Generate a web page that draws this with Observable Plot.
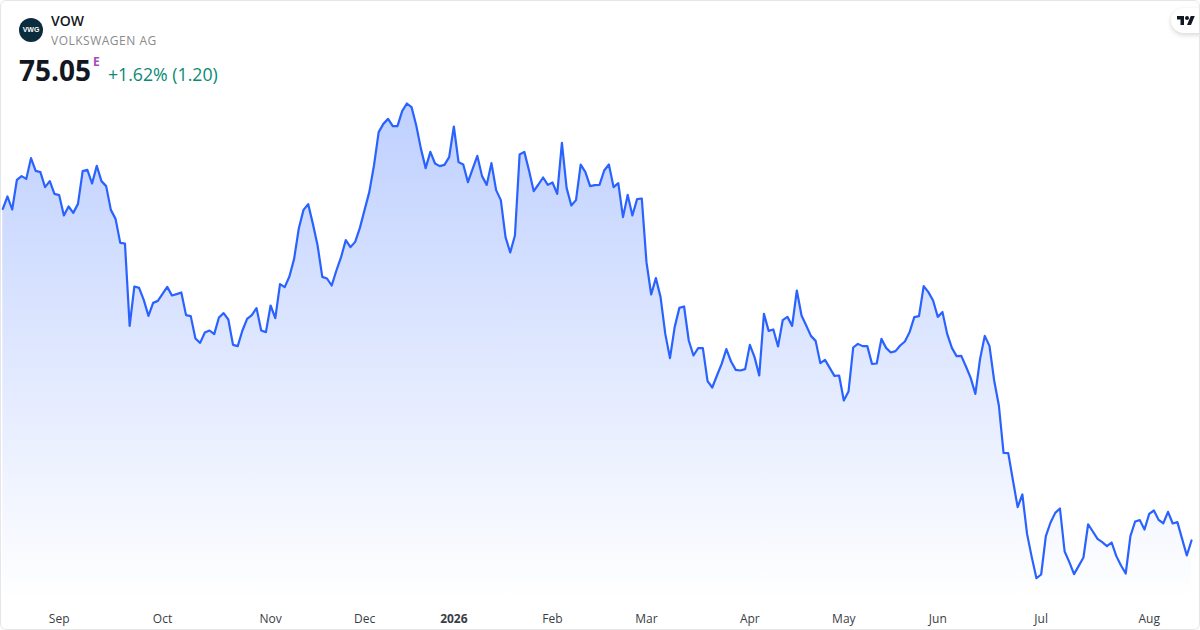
<!DOCTYPE html>
<html>
<head>
<meta charset="utf-8">
<script src="https://cdn.jsdelivr.net/npm/d3@7"></script>
<script src="https://cdn.jsdelivr.net/npm/@observablehq/plot@0.6"></script>
<style>
html,body{margin:0;padding:0;background:#fff;}
#card{position:relative;width:1200px;height:630px;overflow:hidden;font-family:"Open Sans",sans-serif;}
#frame{position:absolute;left:0;top:0;width:1198px;height:628px;border:1px solid #e6e6e6;border-radius:6px;pointer-events:none;}
#chart{position:absolute;left:0;top:0;}
#chart svg{display:block;}
.t{position:absolute;white-space:nowrap;line-height:1;}
#logo{position:absolute;left:19px;top:18px;width:24px;height:24px;border-radius:50%;background:#0b2c3d;color:#fff;font:700 7px/24px "Liberation Sans",sans-serif;text-align:center;}
#tv{position:absolute;left:1171px;top:8px;width:40px;height:25px;border-radius:13px;background:#fff;box-shadow:0 2px 5px rgba(0,0,0,.16);}
#tv svg{position:absolute;left:6px;top:8px;}
</style>
</head>
<body>
<div id="card">
  <div id="chart"></div>
  <div id="logo">VWG</div>
  <div class="t" style="left:51px;top:14px;font-size:14px;font-weight:600;color:#131722">VOW</div>
  <div class="t" style="left:51px;top:35px;font-size:12px;color:#8a8a8a;letter-spacing:.5px">VOLKSWAGEN AG</div>
  <div class="t" style="left:19px;top:56px;font-size:28px;font-weight:700;color:#131722">75.05</div>
  <div class="t" style="left:93px;top:56px;font-size:12px;font-weight:700;color:#ab47bc">E</div>
  <div class="t" style="left:108px;top:66px;font-size:17.7px;color:#0a8a73">+1.62% (1.20)</div>
  <div id="tv"><svg width="18" height="9" viewBox="0 4 36 18"><path fill="#131722" d="M14 22H7V11H0V4h14v18zM28 22h-8l7.5-18h8L28 22z"/><circle fill="#131722" cx="20" cy="8" r="4"/></svg></div>
  <div id="frame"></div>
</div>
<script>
const closes = [
101.58,102.57,101.53,103.90,104.20,103.98,105.64,104.62,104.52,103.32,103.80,102.78,102.68,101.05,101.77,101.26,
101.98,104.60,104.70,103.61,105.02,103.80,103.40,101.50,100.78,98.86,98.81,92.22,95.37,95.26,94.30,93.02,
94.06,94.22,94.78,95.34,94.65,94.76,94.89,93.08,93.00,91.21,90.86,91.69,91.85,91.56,92.89,93.24,
92.73,90.70,90.60,91.85,92.78,93.08,93.64,91.85,91.72,93.85,92.84,95.56,95.32,96.17,97.58,100.01,
101.50,101.96,100.38,98.65,96.14,96.01,95.45,96.65,97.72,99.08,98.52,98.94,100.06,101.50,102.92,105.05,
107.72,108.38,108.78,108.20,108.20,109.40,110.01,109.72,108.25,106.38,104.84,106.14,105.21,105.00,105.10,105.72,
108.17,105.32,105.13,103.72,104.78,105.82,104.20,103.50,105.24,103.08,102.28,99.32,98.09,99.45,105.93,106.14,
104.65,103.00,103.53,104.09,103.50,103.69,102.78,106.86,103.26,101.85,102.28,105.13,104.52,103.40,103.48,103.50,
104.65,105.13,103.32,103.64,100.92,102.70,101.05,102.36,102.41,
97.32,94.73,96.04,94.52,91.58,89.64,92.12,93.66,93.77,91.05,89.85,90.44,90.44,87.80,87.29,88.25,
89.18,90.36,89.37,88.70,88.65,88.76,90.70,89.72,88.25,93.18,91.82,91.93,90.57,92.68,92.94,92.22,
95.05,93.05,92.25,91.42,91.02,89.24,89.50,88.86,88.22,88.25,86.25,86.97,90.49,90.78,90.60,90.60,
89.18,89.21,91.18,90.46,90.09,90.20,90.65,
90.97,91.72,92.92,93.00,95.40,94.92,94.25,92.94,93.32,91.58,90.46,89.80,89.82,88.97,88.06,86.78,
89.58,91.42,90.62,87.85,85.85,82.06,82.04,79.85,77.72,78.73,75.58,73.72,72.03,72.33,75.40,76.49,
77.26,77.61,74.17,73.32,72.36,73.02,73.69,76.35,75.77,75.18,74.92,74.60,74.89,73.80,73.05,72.41,
75.40,76.57,76.68,75.93,77.18,77.45,76.70,76.43,77.34,76.41,76.52,75.18,73.85,75.05
];
const monthLabels = ["Sep","Oct","Nov","Dec","Feb","Mar","Apr","May","Jun","Jul","Aug"];
const monthSessions = [12,34,57,77,117,137,159,179,199,221,244];
const yearLabels = ["2026"];
const yearSessions = [96];
const floorPrice = 70.25;

const points = closes.map((close, session) => ({session, close}));
const months = monthLabels.map((label, i) => ({label, session: monthSessions[i]}));
const years = yearLabels.map((label, i) => ({label, session: yearSessions[i]}));

const gradient = () => {
  const svg = d3.create("svg:defs");
  const g = svg.append("linearGradient").attr("id","fade").attr("x1",0).attr("x2",0).attr("y1",0).attr("y2",1);
  g.append("stop").attr("offset","0%").attr("stop-color","#2962ff").attr("stop-opacity",0.30);
  g.append("stop").attr("offset","100%").attr("stop-color","#2962ff").attr("stop-opacity",0);
  return svg.node();
};

const labelStyle = {x:"session", text:"label", frameAnchor:"bottom", dy:-8, fontSize:12, fill:"#3a3d45", lineAnchor:"bottom"};

const chart = Plot.plot({
  width:1200, height:630,
  margin:0,
  style:{background:"transparent", fontFamily:"'Open Sans',sans-serif"},
  x:{type:"linear", domain:[0, closes.length-1], range:[2.3,1191], axis:null},
  y:{type:"linear", domain:[67.85,118.25], range:[630,0], axis:null},
  marks:[
    gradient,
    Plot.areaY(points,{x:"session", y1:floorPrice, y2:"close", fill:"url(#fade)"}),
    Plot.lineY(points,{x:"session", y:"close", stroke:"#2962ff", strokeWidth:2.2, strokeLinejoin:"round", strokeLinecap:"round"}),
    Plot.text(months,{...labelStyle}),
    Plot.text(years,{...labelStyle, fontWeight:700})
  ]
});
document.getElementById("chart").appendChild(chart);
</script>
</body>
</html>
